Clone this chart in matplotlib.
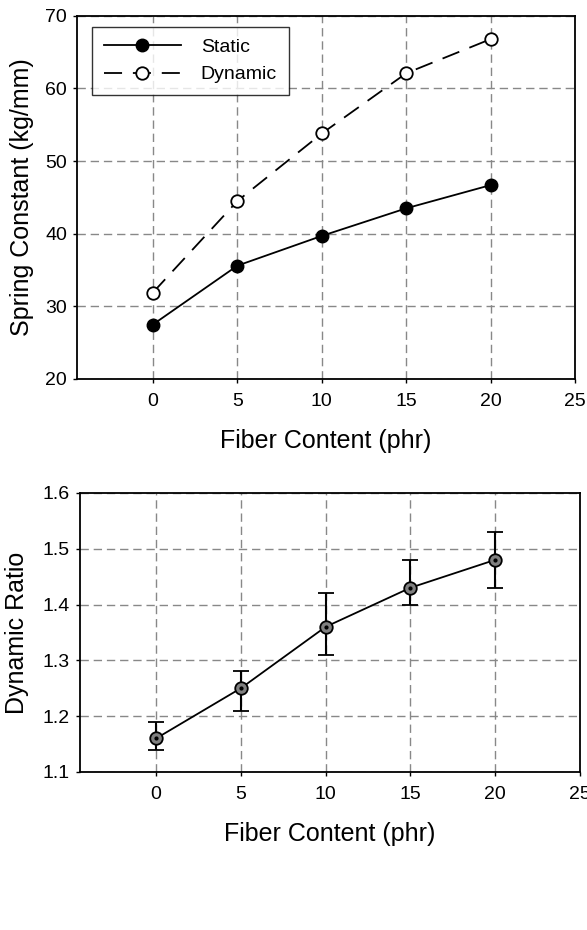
import matplotlib
matplotlib.use("Agg")
import matplotlib.pyplot as plt

plt.rcParams['font.family'] = ['Liberation Sans', 'DejaVu Sans']

fiber = [0, 5, 10, 15, 20]
static_k = [27.5, 35.6, 39.7, 43.5, 46.7]
dynamic_k = [31.9, 44.5, 53.8, 62.1, 66.8]
ratio = [1.16, 1.25, 1.36, 1.43, 1.48]
ratio_low = [1.14, 1.21, 1.31, 1.40, 1.43]
ratio_high = [1.19, 1.28, 1.42, 1.48, 1.53]

fig = plt.figure(figsize=(5.87, 9.30), dpi=100)
ax1 = fig.add_axes([0.131, 0.5925, 0.849, 0.3905])
ax2 = fig.add_axes([0.136, 0.170, 0.852, 0.300])

grid_kw = dict(color='#888888', linestyle=(0, (6, 3.5)), linewidth=1.0)

ax1.plot(fiber, static_k, '-', color='black', lw=1.3, marker='o', ms=9,
         mfc='black', mec='black', label='Static', zorder=3)
ax1.plot(fiber, dynamic_k, color='black', lw=1.3, linestyle=(0, (10, 6)), marker='o', ms=9,
         mfc='white', mec='black', mew=1.3, label='Dynamic', zorder=3)
ax1.set_xlim(-4.5, 25)
ax1.set_ylim(20, 70)
ax1.set_xticks([0, 5, 10, 15, 20, 25])
ax1.set_yticks([20, 30, 40, 50, 60, 70])
ax1.grid(True, **grid_kw)
ax1.set_xlabel('Fiber Content (phr)', fontsize=18, labelpad=14)
ax1.set_ylabel('Spring Constant (kg/mm)', fontsize=18, labelpad=8)
leg = ax1.legend(loc='upper left', fontsize=14, frameon=True, fancybox=False,
                 edgecolor='black', handlelength=4.0, borderpad=0.6,
                 labelspacing=0.5, handletextpad=1.0, borderaxespad=0,
                 bbox_to_anchor=(0.03, 0.97))
leg.get_frame().set_linewidth(1.0)

err_low = [r - l for r, l in zip(ratio, ratio_low)]
err_high = [h - r for r, h in zip(ratio, ratio_high)]
ax2.errorbar(fiber, ratio, yerr=[err_low, err_high], color='black', lw=1.3,
             marker='o', ms=9, mfc='#808080', mec='black', mew=1.3,
             capsize=6, capthick=1.5, elinewidth=1.5, zorder=3)
ax2.plot(fiber, ratio, 'o', ms=2, color='black', zorder=4)
ax2.set_xlim(-4.5, 25)
ax2.set_ylim(1.1, 1.6)
ax2.set_xticks([0, 5, 10, 15, 20, 25])
ax2.set_yticks([1.1, 1.2, 1.3, 1.4, 1.5, 1.6])
ax2.grid(True, **grid_kw)
ax2.set_xlabel('Fiber Content (phr)', fontsize=18, labelpad=14)
ax2.set_ylabel('Dynamic Ratio', fontsize=18, labelpad=10)

for ax in (ax1, ax2):
    ax.set_axisbelow(True)
    for s in ax.spines.values():
        s.set_linewidth(1.3)
        s.set_color('black')
    ax.tick_params(direction='out', length=3, width=1, labelsize=14)
    ax.tick_params(axis='x', pad=7)
    ax.tick_params(axis='y', pad=4)

fig.savefig('out.png', dpi=100)
